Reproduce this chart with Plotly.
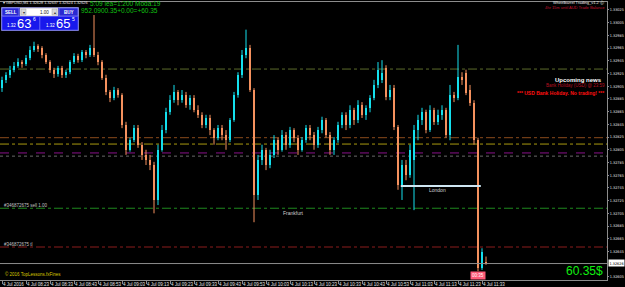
import plotly.graph_objects as go

# ---------------- data ----------------
bar_index = list(range(122))

open_ = [1.32902,1.32915,1.32923,1.32931,1.32937,1.32943,1.32940,1.32949,1.32962,1.32968,
         1.32965,1.32954,1.32943,1.32931,1.32924,1.32934,1.32923,1.32927,1.32943,1.32953,
         1.32946,1.32959,1.32954,1.32965,1.32954,1.32943,1.32918,1.32896,1.32887,1.32899,
         1.32891,1.32844,1.32805,1.32820,1.32839,1.32813,1.32797,1.32789,1.32781,1.32726,
         1.32805,1.32836,1.32864,1.32883,1.32896,1.32883,1.32891,1.32875,1.32887,1.32868,
         1.32860,1.32844,1.32855,1.32836,1.32824,1.32839,1.32828,1.32820,1.32852,1.32891,
         1.32923,1.32954,1.32965,1.32899,1.32734,1.32789,1.32805,1.32781,1.32797,1.32820,
         1.32805,1.32828,1.32813,1.32836,1.32824,1.32805,1.32820,1.32839,1.32828,1.32813,
         1.32836,1.32852,1.32828,1.32805,1.32820,1.32844,1.32860,1.32844,1.32868,1.32852,
         1.32875,1.32860,1.32871,1.32887,1.32907,1.32915,1.32934,1.32888,1.32902,1.32841,
         1.32750,1.32781,1.32765,1.32789,1.32836,1.32852,1.32864,1.32836,1.32868,1.32849,
         1.32860,1.32868,1.32828,1.32891,1.32887,1.32920,1.32926,1.32899,1.32879,1.32820,
         1.32619,1.32628]
high = [1.32920,1.32927,1.32937,1.32943,1.32949,1.32946,1.32954,1.32968,1.32975,1.32971,
        1.32968,1.32957,1.32946,1.32934,1.32937,1.32937,1.32931,1.32946,1.32957,1.32956,
        1.32962,1.32962,1.32970,1.33017,1.32959,1.32946,1.32923,1.32899,1.32904,1.32902,
        1.32894,1.32849,1.32824,1.32844,1.32844,1.32817,1.32805,1.32797,1.32786,1.32813,
        1.32844,1.32871,1.32891,1.32907,1.32899,1.32899,1.32896,1.32891,1.32891,1.32875,
        1.32864,1.32860,1.32860,1.32839,1.32844,1.32844,1.32836,1.32855,1.32896,1.32927,
        1.32962,1.32994,1.32970,1.32902,1.32797,1.32813,1.32808,1.32805,1.32828,1.32824,
        1.32836,1.32833,1.32841,1.32839,1.32828,1.32825,1.32844,1.32844,1.32833,1.32841,
        1.32857,1.32855,1.32833,1.32825,1.32849,1.32864,1.32864,1.32875,1.32871,1.32883,
        1.32880,1.32875,1.32891,1.32915,1.32943,1.32946,1.32938,1.32907,1.32907,1.32844,
        1.32789,1.32789,1.32813,1.32844,1.32860,1.32871,1.32868,1.32875,1.32871,1.32868,
        1.32875,1.32871,1.32907,1.32896,1.32970,1.32927,1.32931,1.32907,1.32883,1.32824,
        1.32650,1.32637]
low = [1.32896,1.32910,1.32918,1.32927,1.32934,1.32934,1.32937,1.32946,1.32959,1.32959,
       1.32949,1.32940,1.32926,1.32918,1.32920,1.32918,1.32918,1.32924,1.32940,1.32942,
       1.32943,1.32949,1.32951,1.32951,1.32938,1.32915,1.32891,1.32880,1.32883,1.32887,
       1.32839,1.32797,1.32802,1.32817,1.32808,1.32789,1.32781,1.32773,1.32705,1.32718,
       1.32802,1.32831,1.32860,1.32879,1.32875,1.32879,1.32871,1.32868,1.32864,1.32855,
       1.32839,1.32839,1.32828,1.32813,1.32820,1.32820,1.32805,1.32817,1.32849,1.32887,
       1.32918,1.32949,1.32896,1.32691,1.32726,1.32781,1.32773,1.32776,1.32792,1.32797,
       1.32802,1.32805,1.32808,1.32817,1.32797,1.32802,1.32816,1.32820,1.32805,1.32808,
       1.32831,1.32824,1.32797,1.32797,1.32816,1.32839,1.32836,1.32839,1.32844,1.32847,
       1.32855,1.32852,1.32864,1.32883,1.32902,1.32910,1.32883,1.32883,1.32836,1.32742,
       1.32726,1.32757,1.32761,1.32710,1.32820,1.32844,1.32831,1.32833,1.32844,1.32844,
       1.32852,1.32824,1.32820,1.32880,1.32883,1.32907,1.32891,1.32874,1.32813,1.32614,
       1.32616,1.32624]
close = [1.32915,1.32923,1.32931,1.32937,1.32943,1.32940,1.32949,1.32962,1.32968,1.32965,
         1.32954,1.32943,1.32931,1.32924,1.32934,1.32923,1.32927,1.32943,1.32953,1.32946,
         1.32959,1.32954,1.32965,1.32954,1.32943,1.32918,1.32896,1.32887,1.32899,1.32891,
         1.32844,1.32805,1.32820,1.32839,1.32813,1.32797,1.32789,1.32781,1.32726,1.32805,
         1.32836,1.32864,1.32883,1.32896,1.32883,1.32891,1.32875,1.32887,1.32868,1.32860,
         1.32844,1.32855,1.32836,1.32824,1.32839,1.32828,1.32820,1.32852,1.32891,1.32923,
         1.32954,1.32965,1.32899,1.32734,1.32789,1.32805,1.32781,1.32797,1.32820,1.32805,
         1.32828,1.32813,1.32836,1.32824,1.32805,1.32820,1.32839,1.32828,1.32813,1.32836,
         1.32852,1.32828,1.32805,1.32820,1.32844,1.32860,1.32844,1.32868,1.32852,1.32875,
         1.32860,1.32871,1.32887,1.32907,1.32931,1.32926,1.32888,1.32899,1.32841,1.32750,
         1.32781,1.32765,1.32805,1.32836,1.32852,1.32864,1.32836,1.32868,1.32849,1.32860,
         1.32868,1.32828,1.32891,1.32887,1.32920,1.32915,1.32894,1.32879,1.32820,1.32619,
         1.32644,1.32626]

time_tick_bars = [0, 6, 12, 18, 24, 30, 36, 42, 48, 54, 60, 66, 72, 78, 84, 90, 96, 102, 108, 114, 120]
time_tick_text = ["4 Jul 2016", "4 Jul 08:23", "4 Jul 08:33", "4 Jul 08:43", "4 Jul 08:53",
                  "4 Jul 09:03", "4 Jul 09:13", "4 Jul 09:23", "4 Jul 09:33", "4 Jul 09:43",
                  "4 Jul 09:53", "4 Jul 10:03", "4 Jul 10:13", "4 Jul 10:23", "4 Jul 10:33",
                  "4 Jul 10:43", "4 Jul 10:53", "4 Jul 11:03", "4 Jul 11:13", "4 Jul 11:23",
                  "4 Jul 11:33"]
price_ticks = [1.33025, 1.33005, 1.32985, 1.32965, 1.32945, 1.32925, 1.32905, 1.32885,
               1.32865, 1.32845, 1.32825, 1.32805, 1.32785, 1.32765, 1.32745, 1.32725,
               1.32705, 1.32685, 1.32665, 1.32645, 1.32605]

bid_price = 1.32626
level_prices = [1.32932, 1.32824, 1.32814, 1.32800, 1.32795, 1.32713, 1.32652]
level_colors = ["#5b6b2a", "#8a4a1c", "#a89a10", "#8a108a", "#6a6a6a", "#1f8a1f", "#8b1c1c"]
level_dash = ["dashdot", "dashdot", "dashdot", "dash", "dot", "dashdot", "dashdot"]
london_price = 1.32748
london_bars = [100, 120]

BULL = "#14e0ee"
BEAR = "#f5915e"

# ---------------- layout helpers ----------------
W, H = 625, 287
ML, MR, MT, MB = 0, 18, 2, 7
PW, PH = W - ML - MR, H - MT - MB


def px(x):
    return (x - ML) / PW


def py(y):
    return (H - MB - y) / PH


FONT = "Liberation Sans, Arial, sans-serif"
NARROW = "Liberation Sans Narrow, DejaVu Sans Condensed, Liberation Sans, sans-serif"

fig = go.Figure()

# candles: bodies as bars, wicks as lines
for is_bull, col in ((True, BULL), (False, BEAR)):
    xs, base, hgt, wx, wy = [], [], [], [], []
    for i, o, h, l, c in zip(bar_index, open_, high, low, close):
        if (c >= o) != is_bull:
            continue
        xs.append(i)
        base.append(min(o, c))
        hgt.append(max(abs(c - o), 0.000012))
        wx += [i, i, None]
        wy += [l, h, None]
    fig.add_trace(go.Scatter(x=wx, y=wy, mode="lines", line=dict(color=col, width=1),
                             hoverinfo="skip", showlegend=False))
    fig.add_trace(go.Bar(x=xs, y=hgt, base=base, width=0.72, marker=dict(color=col, line=dict(width=0)),
                         showlegend=False, hoverinfo="skip"))

shapes = []
for p, c, d in zip(level_prices, level_colors, level_dash):
    shapes.append(dict(type="line", xref="paper", yref="y", x0=0, x1=1, y0=p, y1=p,
                       line=dict(color=c, width=1, dash=d), layer="below"))
shapes.append(dict(type="line", xref="paper", yref="y", x0=0, x1=1, y0=bid_price, y1=bid_price,
                   line=dict(color="#8c8c8c", width=1)))
shapes.append(dict(type="line", xref="x", yref="y", x0=london_bars[0] - 0.3, x1=london_bars[1] - 0.3,
                   y0=london_price, y1=london_price, line=dict(color="#cfe6f2", width=2)))


# one-click trading panel
def rect(x0, y0, x1, y1, fill, line="#9a9aff", lw=0.6):
    shapes.append(dict(type="rect", xref="paper", yref="paper", x0=px(x0), x1=px(x1),
                       y0=py(y1), y1=py(y0), fillcolor=fill, line=dict(color=line, width=lw)))


rect(1.5, 7.5, 78.5, 30.5, "#1010c8", "#c8c8ff", 0.6)
rect(2, 8, 19, 16, "#2a2ad2")
rect(20, 8, 58, 16, "#ffffff", "#b0b0b0")
rect(21, 9, 26, 15, "#d8d8d8", "#a0a0a0", 0.5)
rect(52, 9, 57, 15, "#d8d8d8", "#a0a0a0", 0.5)
rect(59, 8, 78, 16, "#2a2ad2")
rect(2, 16.5, 39.5, 30, "#1818ec", "#6a6aff")
rect(40, 16.5, 78, 30, "#1818ec", "#6a6aff")

fig.update_layout(shapes=shapes)

ann = []


def text(x, y, s, size=5, color="#ffffff", xa="left", ya="middle", bold=False, bg=None, pad=0, family=FONT):
    d = dict(x=px(x), y=py(y), xref="paper", yref="paper", text=("<b>%s</b>" % s) if bold else s,
             showarrow=False, xanchor=xa, yanchor=ya, font=dict(family=family, size=size, color=color),
             borderpad=pad)
    if bg:
        d["bgcolor"] = bg
    ann.append(d)


text(2, 3.5, "▾ GBPUSD,M1 1.32628 1.32637 1.32624 1.32626", 3.8, "#e8e8e8")
text(89, 3.5, "5:09 lea=1:200 Moda:19", 6.5, "#10c010")
text(80, 10.5, "952.0900.35+0.00=+60.35", 6.5, "#10c010")
text(10.5, 12, "SELL", 4.5, "#ffffff", "center", bold=True)
text(68.5, 12, "BUY", 4.5, "#ffffff", "center", bold=True)
text(23.5, 12, "▾", 4, "#303030", "center")
text(54.5, 12, "▴", 4, "#303030", "center")
text(50, 12, "1.00", 4.5, "#202020", "right")
text(6, 25, "1.32", 4.5, "#ffffff")
text(24, 23.5, "63", 13, "#ffffff", "center")
text(31.5, 19, "6", 5, "#ffffff")
text(45, 25, "1.32", 4.5, "#ffffff")
text(63, 23.5, "65", 13, "#ffffff", "center")
text(70.5, 19, "5", 5, "#ffffff")

text(605, 2.5, "Wheelbarrel Trading_v1.2 ⓒ", 4, "#e8e8e8", "right")
text(606, 8, "4hr 15m until AUD Trade Balance", 4, "#c0102c", "right")
text(603, 80, "Upcoming news", 6, "#ffffff", "right", bold=True)
text(606, 85.5, "Bank Holiday (USD) @ 23:59", 4.5, "#b81020", "right")
text(605, 93, "*** USD Bank Holiday. No trading! ***", 5, "#ff1010", "right", bold=True)
text(437, 189.5, "London", 5, "#d0d0d0", "center")
text(293, 212.5, "Frankfurt", 5, "#d0d0d0", "center")
text(3, 205, "#346872675 sell 1.00", 4.5, "#c0c0c0")
text(3, 244.5, "#346872675 tl", 4.5, "#c0c0c0")
text(4, 274, "© 2016 TopLessons.fxFines", 4.5, "#d8c800")
text(604, 270.5, "60.35$", 12, "#10f010", "right")
text(478, 275, "00:35", 4.5, "#ffffff", "center", bg="#ff5a78", pad=1)
text(608, 263, "1.32626", 3.8, "#000000", "left", bg="#ffffff", pad=0.5, family=NARROW)

fig.update_layout(
    width=W, height=H,
    margin=dict(l=ML, r=MR, t=MT, b=MB, autoexpand=False),
    paper_bgcolor="#000000", plot_bgcolor="#000000",
    barmode="overlay", bargap=0, showlegend=False,
    annotations=ann,
    xaxis=dict(range=[-0.5, (PW - 2) / 4], showgrid=False, zeroline=False, automargin=False,
               showline=True, linecolor="#8c8c8c", linewidth=1, mirror=True,
               tickmode="array", tickvals=time_tick_bars, ticktext=time_tick_text, tickangle=0,
               ticks="outside", ticklen=3, tickcolor="#8c8c8c", ticklabelposition="outside right",
               tickfont=dict(family=FONT, size=4.5, color="#e0e0e0"), fixedrange=True),
    yaxis=dict(range=[1.326001, 1.330375], side="right", showgrid=False, zeroline=False, automargin=False,
               showline=True, linecolor="#8c8c8c", linewidth=1, mirror=True,
               tickmode="array", tickvals=price_ticks, tickformat=".5f",
               ticks="outside", ticklen=1, tickcolor="#8c8c8c",
               tickfont=dict(family=NARROW, size=3.8, color="#e0e0e0"), fixedrange=True),
)

fig.write_html("out.html")
